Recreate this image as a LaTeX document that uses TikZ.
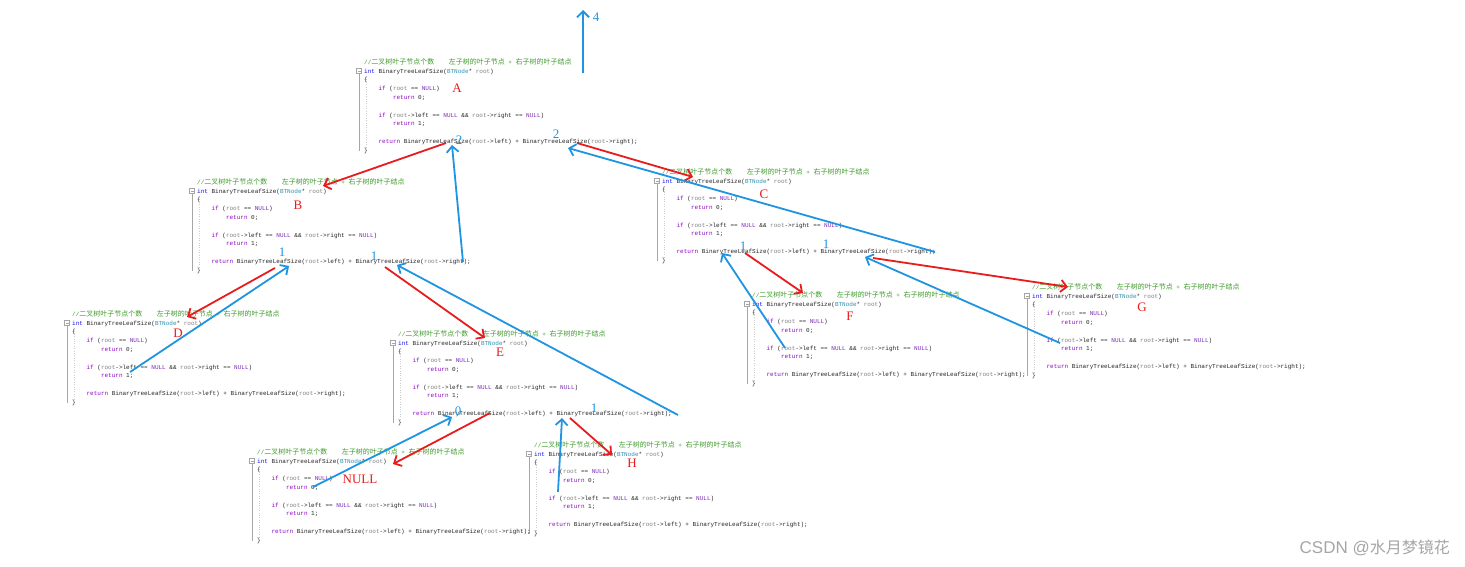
\documentclass[tikz,border=0pt]{standalone}
\usepackage{fontspec}
\setmainfont{Liberation Serif}
\setmonofont{Liberation Mono}
\newfontfamily\cjk{Noto Sans CJK SC}
\newfontfamily\marca{Liberation Sans}
\usetikzlibrary{arrows.meta}
\definecolor{PenRed}{HTML}{E81C1C}
\definecolor{PenBlue}{HTML}{1E94E2}
\definecolor{CmtGreen}{HTML}{3E9A2A}
\definecolor{KwBlue}{HTML}{1010E8}
\definecolor{KwPurple}{HTML}{8F08C4}
\definecolor{MacPurple}{HTML}{7A2BB8}
\definecolor{TypeTeal}{HTML}{2B91AF}
\definecolor{ParGray}{HTML}{808080}

% Texto del bloque de código
\newcommand\ind{\hspace*{14.4pt}}
\newcommand\zh[1]{{\cjk\fontsize{7}{8.8}\selectfont #1}}
\newcommand\rt{{\color{ParGray}root}}
\newcommand\nl{{\color{MacPurple}NULL}}
\newcommand\codigo{%
\strut{\color{CmtGreen}//\zh{二叉树叶子节点个数}\ind\zh{左子树的叶子节点} + \zh{右子树的叶子结点}}\\
{\color{KwBlue}int} BinaryTreeLeafSize({\color{TypeTeal}BTNode}* \rt)\\
\{\\
\ind{\color{KwPurple}if} (\rt{} == \nl)\\
\ind\ind{\color{KwPurple}return} 0;\\
~\\
\ind{\color{KwPurple}if} (\rt->left == \nl{} \&\& \rt->right == \nl)\\
\ind\ind{\color{KwPurple}return} 1;\\
~\\
\ind{\color{KwPurple}return} BinaryTreeLeafSize(\rt->left) + BinaryTreeLeafSize(\rt->right);\\
\}}

% Bloque con sus marcas de margen
\newcommand\bloque[2]{%
  \begin{scope}[shift={#2}]
    \node[codebox] (#1) at (0,-4) {\codigo};
    \draw[foldline] (-7.5,6.3) rectangle (-2.5,11.3) (-6.5,8.8) -- (-3.5,8.8);
    \draw[foldline] (-5,11.3) -- (-5,89);
    \draw[guide] (2,15) -- (2,86);
  \end{scope}}

\begin{document}
\begin{tikzpicture}[x=1pt, y=-1pt,
        % Estilo para bloque de código
        codebox/.style={
                anchor=north west,
                inner sep=0pt,
                align=left,
                font=\ttfamily\fontsize{6}{8.8}\selectfont,
                text=black!85
            },
        % Marcas del margen
        foldline/.style={draw=gray!70, line width=0.5pt},
        guide/.style={draw=gray!40, line width=0.4pt, dotted},
        % Trazos a mano
        redpen/.style={draw=PenRed, line width=1.8pt, -{Straight Barb[length=6pt,width=12pt]}},
        bluepen/.style={draw=PenBlue, line width=1.8pt, -{Straight Barb[length=6pt,width=12pt]}},
        % Rótulos
        letra/.style={text=PenRed, font=\fontsize{13}{13}\selectfont, inner sep=0pt},
        cifra/.style={text=PenBlue, font=\fontsize{13}{13}\selectfont, inner sep=0pt}
    ]

    \fill[white] (0,0) rectangle (1465,567);
    \useasboundingbox (0,0) rectangle (1465,567);

    % BLOQUES
    \bloque{A}{(364,62)}
    \bloque{B}{(197,182)}
    \bloque{C}{(662,172)}
    \bloque{D}{(72,314)}
    \bloque{E}{(398,334)}
    \bloque{F}{(752,295)}
    \bloque{G}{(1032,287)}
    \bloque{H}{(534,445)}
    \bloque{nulo}{(257,452)}

    % Letras
    \node[letra] (letraA) at (457,88) {A};
    \node[letra] (letraB) at (298,205) {B};
    \node[letra] (letraC) at (764,194) {C};
    \node[letra] (letraD) at (178,333) {D};
    \node[letra] (letraE) at (500,352) {E};
    \node[letra] (letraF) at (850,316) {F};
    \node[letra] (letraG) at (1142,307) {G};
    \node[letra] (letraH) at (632,463) {H};
    \node[letra] (letraN) at (360,479) {NULL};

    % Puntos de llamada y retorno
    \coordinate (A-li) at (446,143);  \coordinate (B-in) at (323,186);
    \coordinate (A-ri) at (577,143);  \coordinate (C-in) at (693,177);
    \coordinate (B-li) at (275,268);  \coordinate (D-in) at (187,317);
    \coordinate (B-ri) at (385,267);  \coordinate (E-in) at (485,338);
    \coordinate (C-li) at (745,253);  \coordinate (F-in) at (803,293);
    \coordinate (C-ri) at (873,258);  \coordinate (G-in) at (1068,287);
    \coordinate (E-li) at (490,413);  \coordinate (nulo-in) at (393,464);
    \coordinate (E-ri) at (570,418);  \coordinate (H-in) at (612,455);

    \coordinate (A-top) at (583,73);  \coordinate (arriba) at (583,10);
    \coordinate (B-fin) at (463,262); \coordinate (A-lv) at (452,145);
    \coordinate (C-fin) at (935,252); \coordinate (A-rv) at (568,148);
    \coordinate (D-ret) at (130,372); \coordinate (B-lv) at (289,266);
    \coordinate (E-fin) at (678,415); \coordinate (B-rv) at (397,265);
    \coordinate (nulo-ret) at (313,487); \coordinate (E-lv) at (452,417);
    \coordinate (H-ret) at (558,492); \coordinate (E-rv) at (562,418);
    \coordinate (F-ret) at (785,348); \coordinate (C-lv) at (722,253);
    \coordinate (G-ret) at (1060,343); \coordinate (C-rv) at (865,257);

    % Llamadas
    \draw[redpen] (A-li) -- (B-in);
    \draw[redpen] (A-ri) -- (C-in);
    \draw[redpen] (B-li) -- (D-in);
    \draw[redpen] (B-ri) -- (E-in);
    \draw[redpen] (C-li) -- (F-in);
    \draw[redpen] (C-ri) -- (G-in);
    \draw[redpen] (E-li) -- (nulo-in);
    \draw[redpen] (E-ri) -- (H-in);

    % Retornos
    \draw[bluepen] (A-top) -- (arriba);
    \draw[bluepen] (B-fin) -- (A-lv);
    \draw[bluepen] (C-fin) -- (A-rv);
    \draw[bluepen] (D-ret) -- (B-lv);
    \draw[bluepen] (E-fin) -- (B-rv);
    \draw[bluepen] (nulo-ret) -- (E-lv);
    \draw[bluepen] (H-ret) -- (E-rv);
    \draw[bluepen] (F-ret) -- (C-lv);
    \draw[bluepen] (G-ret) -- (C-rv);

    % Valores devueltos
    \node[cifra] (cuatro) at (596,17) {4};
    \node[cifra] (A-l2) at (459,140) {2};
    \node[cifra] (A-r2) at (556,134) {2};
    \node[cifra] (B-l1) at (282,252) {1};
    \node[cifra] (B-r1) at (374,256) {1};
    \node[cifra] (C-l1) at (743,246) {1};
    \node[cifra] (C-r1) at (826,244) {1};
    \node[cifra] (E-l0) at (458,411) {0};
    \node[cifra] (E-r1) at (594,408) {1};

    % Marca de agua
    \node[anchor=east, text=gray!70, inner sep=0pt] (marca) at (1450,548)
        {\marca\fontsize{17}{17}\selectfont CSDN @{\cjk\fontsize{16}{16}\selectfont 水月梦镜花}};

\end{tikzpicture}
\end{document}
